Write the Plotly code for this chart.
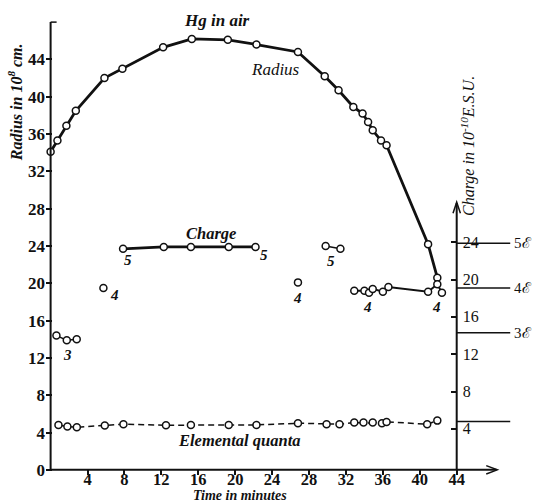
import plotly.graph_objects as go

# ---- data (time in minutes, values in chart units) ----
radius_t = [0.0, 0.74, 1.71, 2.73, 5.83, 7.78, 12.19, 15.3, 19.2, 22.3, 26.8, 29.7,
            31.2, 32.8, 33.8, 34.4, 34.9, 35.8, 36.4, 40.9, 41.9]
radius_v = [34.1, 35.3, 36.9, 38.5, 42.0, 43.0, 45.3, 46.2, 46.1, 45.6, 44.8, 42.2,
            40.7, 38.9, 38.2, 37.3, 36.4, 35.3, 34.8, 24.2, 20.6]

charge3_t = [0.63, 1.75, 2.83]
charge3_v = [14.4, 13.9, 14.0]
charge4a_t = [5.72]
charge4a_v = [19.5]
charge5a_t = [7.85, 12.26, 15.2, 19.3, 22.2]
charge5a_v = [23.7, 23.9, 23.9, 23.9, 23.9]
charge4b_t = [26.8]
charge4b_v = [20.1]
charge5b_t = [29.8, 31.4]
charge5b_v = [24.0, 23.7]
charge4c_t = [32.9, 34.0, 34.5, 34.9, 36.0, 36.6, 40.9, 41.9, 42.4]
charge4c_v = [19.2, 19.2, 19.0, 19.4, 19.1, 19.6, 19.1, 19.9, 19.0]

quanta_t = [0.85, 1.82, 2.84, 5.87, 7.89, 12.5, 15.2, 19.3, 22.3, 26.8, 29.9, 31.3,
            32.9, 33.9, 34.9, 35.9, 36.4, 40.8, 41.9]
quanta_v = [4.82, 4.64, 4.57, 4.75, 4.9, 4.79, 4.82, 4.82, 4.82, 5.0, 4.9, 4.9,
            5.07, 5.07, 5.07, 5.0, 5.14, 4.9, 5.28]

x_ticks = [4, 8, 12, 16, 20, 24, 28, 32, 36, 40, 44]
left_ticks = [0, 4, 8, 12, 16, 20, 24, 28, 32, 36, 40, 44]
right_ticks = [4, 8, 12, 16, 20, 24]
quanta_levels = [4.78, 14.3, 19.1, 23.9]
quanta_names = ["", "3ℰ", "4ℰ", "5ℰ"]

group_labels = [("3", 1.79, 12.3), ("4", 6.88, 18.8), ("5", 8.4, 22.5), ("5", 23.1, 23.0),
                ("4", 26.7, 18.4), ("5", 30.4, 22.4), ("4", 34.3, 17.5), ("4", 41.8, 17.5)]

SERIF = "Liberation Serif"
BLACK = "#111111"

X_RANGE = [-0.5, 52.7]
Y_RANGE = [-0.55, 50.05]
Y2_RANGE = [Y_RANGE[0] - 0.4, Y_RANGE[1] - 0.4]

fig = go.Figure()

mk = dict(symbol="circle", size=7, color="white", line=dict(color=BLACK, width=1.5))

fig.add_trace(go.Scatter(x=radius_t, y=radius_v, mode="lines+markers",
                         line=dict(color=BLACK, width=2.8), marker=mk))
for tt, vv, w in [(charge3_t, charge3_v, 1.4), (charge4a_t, charge4a_v, 1.4),
                  (charge5a_t, charge5a_v, 2.8), (charge4b_t, charge4b_v, 1.4),
                  (charge5b_t, charge5b_v, 1.6), (charge4c_t, charge4c_v, 2.0)]:
    fig.add_trace(go.Scatter(x=tt, y=vv, mode="lines+markers",
                             line=dict(color=BLACK, width=w), marker=mk))
fig.add_trace(go.Scatter(x=quanta_t, y=quanta_v, mode="lines+markers",
                         line=dict(color=BLACK, width=1.5, dash="6px,4px"), marker=mk))

# invisible trace for right axis
fig.add_trace(go.Scatter(x=[44], y=[4], yaxis="y2", mode="markers",
                         marker=dict(opacity=0), hoverinfo="skip"))

shapes = [
    dict(type="line", xref="x", yref="y", x0=0, x1=0, y0=0, y1=48,
         line=dict(color=BLACK, width=2)),
    dict(type="line", xref="x", yref="y", x0=0, x1=0.65, y0=48, y1=48,
         line=dict(color=BLACK, width=1.5)),
    dict(type="line", xref="x", yref="y", x0=0, x1=48.3, y0=0, y1=0,
         line=dict(color=BLACK, width=2)),
    dict(type="line", xref="x", yref="y", x0=44, x1=44, y0=0, y1=28.6,
         line=dict(color=BLACK, width=2)),
    # arrow heads
    dict(type="path", xref="x", yref="y", path="M 47.2 0.45 L 48.4 0 L 47.2 -0.45",
         line=dict(color=BLACK, width=1.5)),
    dict(type="path", xref="x", yref="y", path="M 43.6 27.5 L 44 28.7 L 44.4 27.5",
         line=dict(color=BLACK, width=1.5)),
]
for lv in quanta_levels:
    shapes.append(dict(type="line", xref="x", yref="y2", x0=44, x1=49.8, y0=lv, y1=lv,
                       line=dict(color=BLACK, width=1.5)))

ann = []
for name, lv in zip(quanta_names, quanta_levels):
    if name:
        ann.append(dict(x=50.0, y=lv, xref="x", yref="y2", text=name, showarrow=False,
                        xanchor="left", font=dict(family=SERIF, size=15, color=BLACK)))
for txt, tx, ty in group_labels:
    ann.append(dict(x=tx, y=ty, xref="x", yref="y", text="<i><b>%s</b></i>" % txt,
                    showarrow=False, font=dict(family=SERIF, size=15, color=BLACK)))

ann += [
    dict(x=18.0, y=48.2, xref="x", yref="y", text="<b><i>Hg in air</i></b>", showarrow=False,
         font=dict(family=SERIF, size=17, color=BLACK)),
    dict(x=24.4, y=42.9, xref="x", yref="y", text="<i>Radius</i>", showarrow=False,
         font=dict(family=SERIF, size=17, color=BLACK)),
    dict(x=17.4, y=25.3, xref="x", yref="y", text="<b><i>Charge</i></b>", showarrow=False,
         font=dict(family=SERIF, size=16.5, color=BLACK)),
    dict(x=20.4, y=3.1, xref="x", yref="y", text="<b><i>Elemental quanta</i></b>",
         showarrow=False, font=dict(family=SERIF, size=16.5, color=BLACK)),
    dict(x=0.395, y=-0.043, xref="paper", yref="paper", xanchor="center", yanchor="middle",
         text="<b><i>Time in minutes</i></b>",
         showarrow=False, font=dict(family=SERIF, size=14, color=BLACK)),
    dict(x=-0.063, y=0.79, xref="paper", yref="paper", xanchor="center", yanchor="middle",
         text="<b><i>Radius in 10<sup>8</sup> cm.</i></b>",
         showarrow=False, textangle=-90, font=dict(family=SERIF, size=16, color=BLACK)),
    dict(x=45.2, y=34.7, xref="x", yref="y", text="<i>Charge in 10<sup>-10</sup>E.S.U.</i>",
         showarrow=False, textangle=-90, font=dict(family=SERIF, size=16, color=BLACK)),
]

fig.update_layout(
    width=537, height=503,
    margin=dict(l=46, r=0, t=3, b=28),
    paper_bgcolor="white", plot_bgcolor="white",
    showlegend=False,
    xaxis=dict(range=X_RANGE, showgrid=False, zeroline=False, showline=False,
               tickvals=x_ticks, ticks="inside", ticklen=6, tickwidth=1.5, tickcolor=BLACK,
               ticklabelstandoff=-8,
               tickfont=dict(family=SERIF, size=16.5, color=BLACK, weight="bold")),
    yaxis=dict(range=Y_RANGE, showgrid=False, zeroline=False, showline=False,
               tickvals=left_ticks, ticks="inside", ticklen=6,
               tickwidth=1.5, tickcolor=BLACK,
               tickfont=dict(family=SERIF, size=17, color=BLACK, weight="bold")),
    yaxis2=dict(range=Y2_RANGE, overlaying="y", side="right", anchor="free",
                position=(44 - X_RANGE[0]) / (X_RANGE[1] - X_RANGE[0]),
                showgrid=False, zeroline=False,
                showline=False, tickvals=right_ticks, ticks="inside", ticklen=6,
                tickwidth=1.5, tickcolor=BLACK, ticklabelstandoff=5,
                tickfont=dict(family=SERIF, size=16, color=BLACK)),
    shapes=shapes,
    annotations=ann,
)

fig.write_html("out.html")
